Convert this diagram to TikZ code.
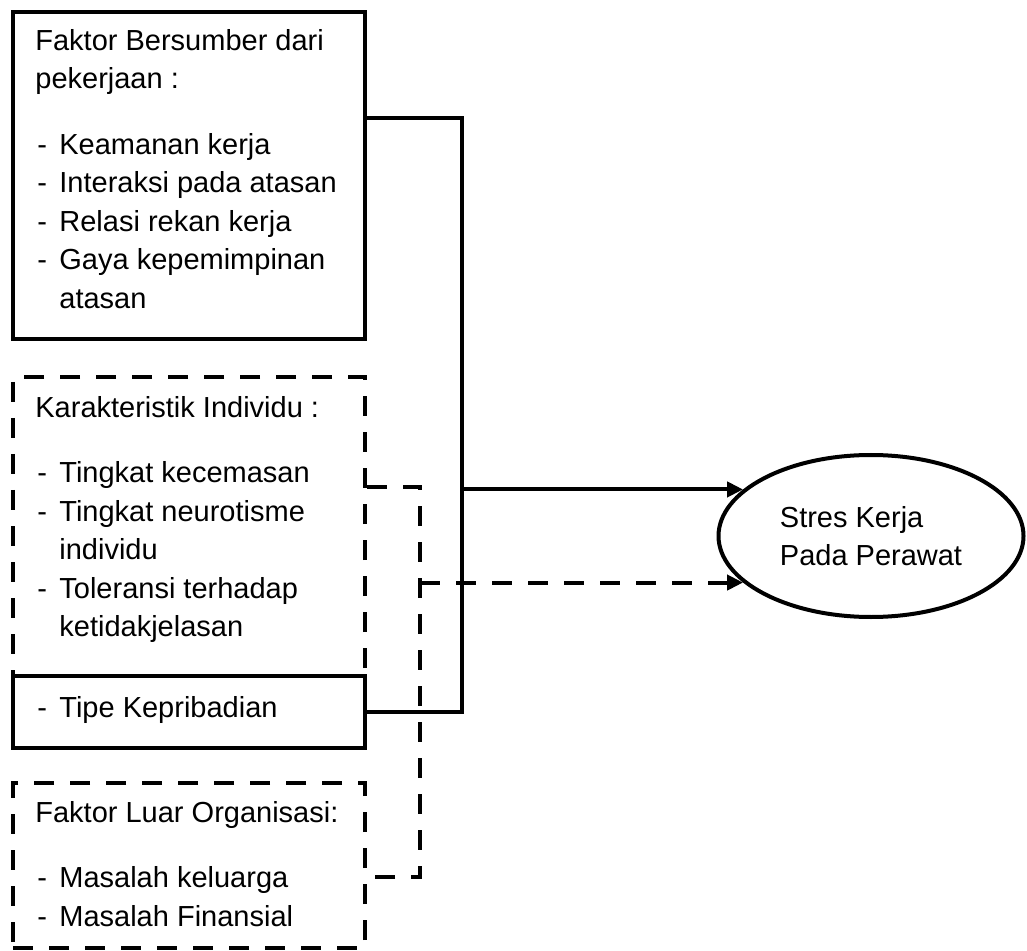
\documentclass[tikz,border=0pt]{standalone}
\usepackage{fontspec}
\setmainfont{Liberation Sans}
\usetikzlibrary{shapes.geometric,arrows.meta}
\newcommand{\butir}[1]{\makebox[12pt][l]{\hspace{1pt}-}#1}
\newcommand{\lanjut}[1]{\hspace*{12pt}#1}

\begin{document}
\begin{tikzpicture}[x=0.5pt,y=-0.5pt,
  garis/.style={line width=2pt},
  putus/.style={line width=2pt,dash pattern=on 10pt off 8pt},
  kotak/.style={draw,line width=2pt,minimum width=176pt,inner sep=0pt},
  isi/.style={anchor=north west,align=left,inner sep=0pt,font=\fontsize{14.5pt}{19.25pt}\selectfont},
  panah/.style={-{Triangle[length=8pt,width=7.5pt]}}]
\useasboundingbox (0,0) rectangle (1027,951);

\node[kotak,minimum height=163.5pt] (f1) at (189,175.5) {};
\node[kotak,putus,minimum height=185.5pt] (ki) at (189,562.5) {};
\node[kotak,fill=white,minimum height=36pt] (tk) at (189,712) {};
\node[kotak,putus,minimum height=82.5pt] (fl) at (189,865.5) {};

\node[isi] (t1) at (35,29) {Faktor Bersumber dari\\pekerjaan :\\[13.5pt]
  \butir{Keamanan kerja}\\\butir{Interaksi pada atasan}\\\butir{Relasi rekan kerja}\\
  \butir{Gaya kepemimpinan}\\\lanjut{atasan}};
\node[isi] (t2) at (35,396) {Karakteristik Individu :\\[13.5pt]
  \butir{Tingkat kecemasan}\\\butir{Tingkat neurotisme}\\\lanjut{individu}\\
  \butir{Toleransi terhadap}\\\lanjut{ketidakjelasan}};
\node[isi] (t3) at (35,696) {\butir{Tipe Kepribadian}};
\node[isi] (t4) at (35,801) {Faktor Luar Organisasi:\\[13.5pt]
  \butir{Masalah keluarga}\\\butir{Masalah Finansial}};

\node[ellipse,draw,line width=2pt,minimum width=152.5pt,minimum height=81pt,align=left,
  font=\fontsize{14.5pt}{19.25pt}\selectfont] (sk) at (871,536) {Stres Kerja\\Pada Perawat};

\coordinate (j1) at (462,118);
\coordinate (d1) at (420,487);
\coordinate (d2) at (420,877);

\draw[garis] (j1 -| f1.east) -- (j1) |- (tk.east);
\draw[garis,panah] (sk.160 -| j1) -- (sk.160);
\draw[putus] (d1 -| ki.east) -- (d1) -- (d2) -- (d2 -| fl.east);
\draw[putus,panah] (sk.200 -| d1) -- (sk.200);

\end{tikzpicture}
\end{document}
